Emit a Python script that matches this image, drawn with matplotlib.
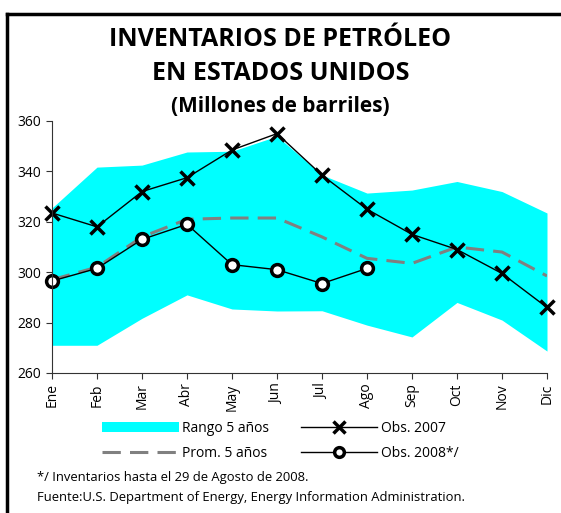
import matplotlib
matplotlib.use('Agg')
import matplotlib.pyplot as plt
from matplotlib.patches import Patch
from matplotlib.lines import Line2D

plt.rcParams['font.family'] = ['Open Sans', 'DejaVu Sans']

meses = ['Ene', 'Feb', 'Mar', 'Abr', 'May', 'Jun', 'Jul', 'Ago', 'Sep', 'Oct', 'Nov', 'Dic']

# rango de 5 años (minimo y maximo)
rango_min = [271, 271, 281.7, 291, 285.4, 284.6, 284.7, 279, 274.3, 288, 281, 268.7]
rango_max = [325.5, 341.7, 342.5, 347.7, 348, 354, 338.6, 331.4, 332.6, 336, 332, 323.5]
# promedio 5 años
prom = [297, 302, 314, 321, 321.5, 321.5, 314, 305.5, 303.5, 310, 308, 298.5]
# observado 2007 y 2008
obs_2007 = [323.5, 318, 332, 337.5, 348.5, 355, 338.5, 325, 315, 309, 299.5, 286]
obs_2008 = [296.5, 301.5, 313, 319, 303, 301, 295.5, 301.5]

x = list(range(len(meses)))
x08 = x[:len(obs_2008)]

fig = plt.figure(figsize=(5.61, 5.13), dpi=100)
ax = fig.add_axes([52/561, 140/513, 495/561, 252/513])

ax.fill_between(x, rango_min, rango_max, color='#00FFFF', lw=0)
ax.plot(x, prom, color='#808080', lw=2.2, linestyle=(0, (6, 3)))
ax.plot(x, obs_2007, color='black', lw=1, marker='x', ms=10, mew=2.5, clip_on=False)
ax.plot(x08, obs_2008, color='black', lw=1, marker='o', ms=8.5, mew=2.5,
        mfc='white', mec='black', clip_on=False)

ax.set_xlim(0, 11)
ax.set_ylim(260, 360)
ax.set_yticks([260, 280, 300, 320, 340, 360])
ax.set_xticks(x)
ax.set_xticklabels(meses, rotation=90)
ax.tick_params(axis='both', labelsize=10, length=4, width=0.8, colors='#333333', labelcolor='black')
for s in ['top', 'right']:
    ax.spines[s].set_visible(False)
for s in ['left', 'bottom']:
    ax.spines[s].set_linewidth(0.8)
    ax.spines[s].set_color('#333333')

# titulo
fig.text(0.5, 1 - 40/513, 'INVENTARIOS DE PETRÓLEO', ha='center', va='center',
         fontsize=18, fontweight='bold')
fig.text(0.5, 1 - 73/513, 'EN ESTADOS UNIDOS', ha='center', va='center',
         fontsize=18, fontweight='bold')
fig.text(0.5, 1 - 107/513, '(Millones de barriles)', ha='center', va='center',
         fontsize=15, fontweight='bold')

# leyenda
handles = [
    Patch(facecolor='#00FFFF', edgecolor='none'),
    Line2D([], [], color='#808080', lw=2.2, linestyle=(0, (6, 3))),
    Line2D([], [], color='black', lw=1, marker='x', ms=8, mew=2.5),
    Line2D([], [], color='black', lw=1, marker='o', ms=7, mew=2.5, mfc='white'),
]
labels = ['Rango 5 años', 'Prom. 5 años', 'Obs. 2007', 'Obs. 2008*/']
fig.legend(handles, labels, ncol=2, loc='center', bbox_to_anchor=(0.5, 1 - 441/513),
           frameon=False, fontsize=10, handlelength=5.5, handleheight=0.7,
           columnspacing=2.3, labelspacing=0.75, handletextpad=0.25)

fig.text(37/561, 1 - 478/513, '*/ Inventarios hasta el 29 de Agosto de 2008.',
         ha='left', va='center', fontsize=9.4)
fig.text(37/561, 1 - 497/513, 'Fuente:U.S. Department of Energy, Energy Information Administration.',
         ha='left', va='center', fontsize=9.4)

# marco
fig.add_artist(Line2D([7/561, 7/561], [0, 1 - 14/513], color='black', lw=2.5))
fig.add_artist(Line2D([7/561, 1], [1 - 14/513, 1 - 14/513], color='black', lw=2.5))

fig.savefig('out.png', dpi=100)
